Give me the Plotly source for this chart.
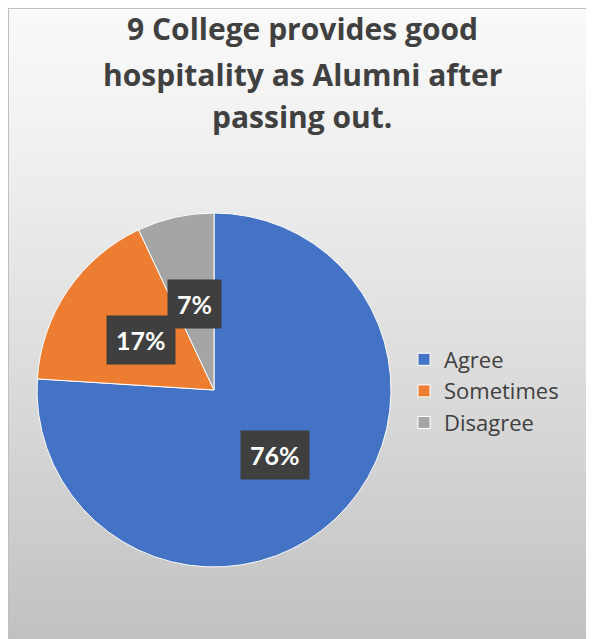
import math
import plotly.graph_objects as go

# ---- data ----
title_lines = ["9 College provides good", "hospitality as Alumni after", "passing out."]
categories = ["Agree", "Sometimes", "Disagree"]
values = [76, 17, 7]
colors = ["#4472C4", "#ED7D31", "#A5A5A5"]

# page is drawn with an 8px body margin, so figure coords = page coords - 8
W, H = 586, 631
cx_px, cy_px, r_px = 206, 382, 177

dom_x = [(cx_px - r_px) / W, (cx_px + r_px) / W]
dom_y = [(H - cy_px - r_px) / H, (H - cy_px + r_px) / H]

fig = go.Figure(go.Pie(
    labels=categories,
    values=values,
    marker=dict(colors=colors, line=dict(color="white", width=1)),
    sort=False,
    direction="clockwise",
    rotation=0,
    textinfo="none",
    hoverinfo="label+percent",
    domain=dict(x=dom_x, y=dom_y),
))

# background gradient drawn as bands
shapes = []
n = 90
for i in range(n):
    t0 = i / n
    t1 = (i + 1) / n
    tm = (t0 + t1) / 2
    c = int(round(249 - 56 * tm ** 1.2))
    shapes.append(dict(type="rect", xref="paper", yref="paper",
                       x0=0, x1=1.0, y0=1 - t1 - 0.001, y1=1 - t0,
                       fillcolor=f"rgb({c},{c},{c})", line=dict(width=0),
                       layer="below"))
shapes.append(dict(type="line", xref="paper", yref="paper",
                   x0=0.5 / W, x1=0.5 / W, y0=0, y1=1,
                   line=dict(color="#BFBFBF", width=1), layer="below"))
shapes.append(dict(type="line", xref="paper", yref="paper",
                   x0=0, x1=1, y0=1 - 0.5 / H, y1=1 - 0.5 / H,
                   line=dict(color="#BFBFBF", width=1), layer="below"))

annotations = []
# title lines
title_centers = [21, 66, 108]
for line, yc in zip(title_lines, title_centers):
    annotations.append(dict(
        x=(W / 2 + 1) / W, y=1 - yc / H, xref="paper", yref="paper",
        showarrow=False, text=f"<b>{line}</b>",
        font=dict(family="Open Sans", size=30, color="#404040"),
        xanchor="center", yanchor="middle",
    ))

# data labels computed from slice angles
total = sum(values)
cx = (dom_x[0] + dom_x[1]) / 2
cy = (dom_y[0] + dom_y[1]) / 2
rx = (dom_x[1] - dom_x[0]) / 2
ry = (dom_y[1] - dom_y[0]) / 2
cum = 0
for v in values:
    mid = (cum + v / 2) / total * 2 * math.pi
    cum += v
    ax = cx + 0.5 * rx * math.sin(mid)
    ay = cy + 0.5 * ry * math.cos(mid)
    annotations.append(dict(
        x=ax, y=ay, xref="paper", yref="paper", showarrow=False,
        text=f"<b>{round(v / total * 100)}%</b>",
        font=dict(family="Lato", size=25, color="white"),
        bgcolor="#3F3F3F", borderpad=9, xanchor="center", yanchor="middle",
    ))

fig.update_layout(
    width=W, height=H,
    margin=dict(l=0, r=0, t=0, b=0),
    paper_bgcolor="white",
    plot_bgcolor="white",
    legend=dict(
        x=396 / W, y=1 - 383 / H, xanchor="left", yanchor="middle",
        font=dict(family="Open Sans", size=22, color="#404040"),
        bgcolor="rgba(0,0,0,0)",
        itemwidth=30,
    ),
    shapes=shapes,
    annotations=annotations,
)

fig.write_html("out.html")
